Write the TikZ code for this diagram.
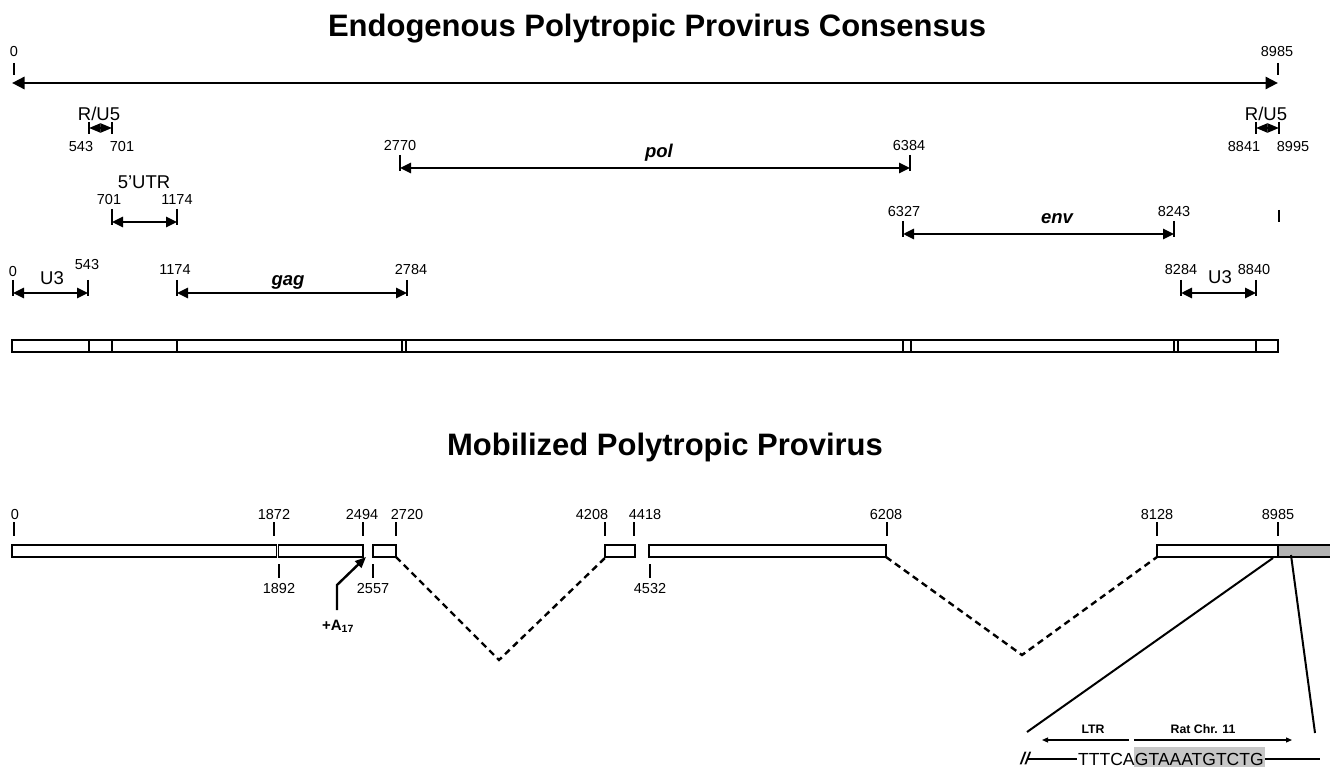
\documentclass[tikz,border=0pt]{standalone}
\usepackage{fontspec}
\setmainfont{Liberation Sans}
\usetikzlibrary{arrows.meta,backgrounds}
\definecolor{bargray}{gray}{0.70}
\definecolor{seqgray}{gray}{0.78}
\begin{document}
\begin{tikzpicture}[x=1pt,y=-1pt,
  num/.style={font=\fontsize{14.5}{16}\selectfont, inner sep=0pt},
  lab/.style={font=\fontsize{18.5}{20}\selectfont, inner sep=0pt},
  gene/.style={font=\fontsize{18.5}{20}\selectfont\bfseries\itshape, inner sep=0pt, anchor=base},
  ttl/.style={font=\fontsize{31}{34}\selectfont\bfseries, inner sep=0pt, anchor=base},
  tk/.style={line width=1.8pt},
  span/.style={line width=2.6pt, {Triangle[length=11pt,width=10pt]}-{Triangle[length=11pt,width=10pt]}},
  bigspan/.style={line width=2.9pt, {Triangle[length=12.5pt,width=12pt]}-{Triangle[length=12.5pt,width=12pt]}},
  mini/.style={line width=2pt, {Triangle[length=11.5pt,width=9pt]}-{Triangle[length=11.5pt,width=9pt]}},
  outline/.style={draw=black, line width=1.9pt, fill=white},
  divider/.style={line width=1.3pt},
  splice/.style={line width=2.4pt, dash pattern=on 6.5pt off 4.5pt},
  zoomline/.style={line width=2pt},
  small/.style={font=\fontsize{12.3}{14}\selectfont\bfseries, inner sep=0pt},
  thinarrow/.style={line width=1.2pt, -{Triangle[length=6pt,width=5pt]}},
  seqfont/.style={font=\fontsize{17.5}{19}\selectfont},
]
\clip (0,0) rectangle (1330,767);

% ================= TOP: consensus =================
\node[ttl] (t1) at (657,37) {Endogenous Polytropic Provirus Consensus};

% full length
\node[num] (n0top) at (14,52) {0};
\node[num] (n8985top) at (1277,52) {8985};
\draw[tk] (14,63) -- (14,75);
\draw[tk] (1278,63) -- (1278,75);
\coordinate (fl) at (12,83);
\coordinate (fr) at (1278,83);
\draw[bigspan] (fl) -- (fr);

% R/U5 left
\node[lab] (ru5l) at (99,114) {R/U5};
\node[num] (n543a) at (81,147) {543};
\node[num] (n701a) at (122,147) {701};
\coordinate (ru5l1) at (89,128);
\coordinate (ru5l2) at (112,128);
\draw[tk] ([yshift=6pt]ru5l1) -- ([yshift=-6pt]ru5l1);
\draw[tk] ([yshift=6pt]ru5l2) -- ([yshift=-6pt]ru5l2);
\draw[mini] (ru5l1) -- (ru5l2);

% R/U5 right
\node[lab] (ru5r) at (1266,114) {R/U5};
\node[num] (n8841) at (1244,147) {8841};
\node[num] (n8995) at (1293,147) {8995};
\coordinate (ru5r1) at (1256,128);
\coordinate (ru5r2) at (1279,128);
\draw[tk] ([yshift=6pt]ru5r1) -- ([yshift=-6pt]ru5r1);
\draw[tk] ([yshift=6pt]ru5r2) -- ([yshift=-6pt]ru5r2);
\draw[mini] (ru5r1) -- (ru5r2);

% pol
\node[num] (n2770) at (400,146) {2770};
\node[num] (n6384) at (909,146) {6384};
\node[gene] (pol) at (659,158) {pol};
\coordinate (pol1) at (400,168);
\coordinate (pol2) at (910,168);
\draw[tk] ([yshift=13pt]pol1) -- ([yshift=-3pt]pol1);
\draw[tk] ([yshift=13pt]pol2) -- ([yshift=-3pt]pol2);
\draw[span] (pol1) -- (pol2);

% 5'UTR
\node[lab] (utr) at (144,182) {5'UTR};
\node[num] (n701b) at (109,200) {701};
\node[num] (n1174a) at (177,200) {1174};
\coordinate (utr1) at (112,222);
\coordinate (utr2) at (177,222);
\draw[tk] ([yshift=13pt]utr1) -- ([yshift=-3pt]utr1);
\draw[tk] ([yshift=13pt]utr2) -- ([yshift=-3pt]utr2);
\draw[span] (utr1) -- (utr2);

% env
\node[num] (n6327) at (904,212) {6327};
\node[num] (n8243) at (1174,212) {8243};
\node[gene] (env) at (1057,224) {env};
\coordinate (env1) at (903,234);
\coordinate (env2) at (1174,234);
\draw[tk] ([yshift=13pt]env1) -- ([yshift=-3pt]env1);
\draw[tk] ([yshift=13pt]env2) -- ([yshift=-3pt]env2);
\draw[span] (env1) -- (env2);

% lone tick
\draw[tk] (1279,210) -- (1279,222);

% U3 left
\node[num] (n0b) at (13,272) {0};
\node[lab] (u3l) at (52,278) {U3};
\node[num] (n543b) at (87,265) {543};
\coordinate (u3l1) at (13,293);
\coordinate (u3l2) at (88,293);
\draw[tk] ([yshift=13pt]u3l1) -- ([yshift=-3pt]u3l1);
\draw[tk] ([yshift=13pt]u3l2) -- ([yshift=-3pt]u3l2);
\draw[span] (u3l1) -- (u3l2);

% gag
\node[num] (n1174b) at (175,270) {1174};
\node[num] (n2784) at (411,270) {2784};
\node[gene] (gag) at (288,285) {gag};
\coordinate (gag1) at (177,293);
\coordinate (gag2) at (407,293);
\draw[tk] ([yshift=13pt]gag1) -- ([yshift=-3pt]gag1);
\draw[tk] ([yshift=13pt]gag2) -- ([yshift=-3pt]gag2);
\draw[span] (gag1) -- (gag2);

% U3 right
\node[num] (n8284) at (1181,270) {8284};
\node[lab] (u3r) at (1220,277) {U3};
\node[num] (n8840) at (1254,270) {8840};
\coordinate (u3r1) at (1181,293);
\coordinate (u3r2) at (1256,293);
\draw[tk] ([yshift=13pt]u3r1) -- ([yshift=-3pt]u3r1);
\draw[tk] ([yshift=13pt]u3r2) -- ([yshift=-3pt]u3r2);
\draw[span] (u3r1) -- (u3r2);

% consensus bar
\draw[outline] (12,340) rectangle (1278,352);
\foreach \x in {89,112,177,402,406,903,911,1174,1178,1256}
  \draw[divider] (\x,340) -- (\x,352);

% ================= BOTTOM: mobilized =================
\node[ttl] (t2) at (665,455) {Mobilized Polytropic Provirus};

\foreach \x/\lx/\t in {14/15/0, 274/274/1872, 363/362/2494, 396/407/2720, 605/592/4208, 634/645/4418, 887/886/6208, 1157/1157/8128, 1278/1278/8985}{
  \node[num] at (\lx,515) {\t};
  \draw[tk] (\x,522) -- (\x,536);
}

% bar segments
\draw[outline] (12,545) rectangle (276.5,557);
\draw[outline] (278.5,545) rectangle (363,557);
\draw[outline] (373,545) rectangle (396,557);
\draw[outline] (605,545) rectangle (635,557);
\draw[outline] (649,545) rectangle (886,557);
\draw[outline] (1157,545) rectangle (1278,557);
\draw[outline, fill=bargray] (1278,545) rectangle (1345,557);

% lower ticks
\foreach \x/\t in {279/1892, 373/2557, 650/4532}{
  \draw[tk] (\x,564) -- (\x,578);
  \node[num] at (\x,589) {\t};
}

% +A17 insertion
\node[font=\fontsize{15}{17}\selectfont\bfseries, inner sep=0pt, anchor=base] (a17) at (338,630) {+A\textsubscript{17}};
\coordinate (pa) at (337,610);
\coordinate (pb) at (337,585);
\coordinate (pc) at (366,557);
\draw[line width=2.4pt, -{Triangle[length=11pt,width=9pt]}] (pa) -- (pb) -- (pc);

% splices
\coordinate (s1a) at (396,557);
\coordinate (s1b) at (499,660);
\coordinate (s1c) at (606,557);
\draw[splice] (s1a) -- (s1b) -- (s1c);
\coordinate (s2a) at (886,557);
\coordinate (s2b) at (1022,655);
\coordinate (s2c) at (1157,557);
\draw[splice] (s2a) -- (s2b) -- (s2c);

% zoom lines
\coordinate (z1a) at (1273,558);
\coordinate (z1b) at (1027,732);
\coordinate (z2a) at (1291,555);
\coordinate (z2b) at (1315,733);
\draw[zoomline] (z1a) -- (z1b);
\draw[zoomline] (z2a) -- (z2b);

% inset
\node[small] (ltr) at (1093,729) {LTR};
\node[small] (rat) at (1203,729) {Rat Chr. 11};
\coordinate (la1) at (1129,740);
\coordinate (la2) at (1042,740);
\draw[thinarrow] (la1) -- (la2);
\coordinate (ra1) at (1134,740);
\coordinate (ra2) at (1292,740);
\draw[thinarrow] (ra1) -- (ra2);

\node[seqfont, inner sep=0pt, anchor=base west] (seqa) at (1078,765.5) {TTTCA};
\node[seqfont, inner sep=0pt, anchor=base west] (seqb) at (seqa.base east) {GTAAATGTCTG};
\begin{scope}[on background layer]
  \fill[seqgray] ([xshift=-0.6pt]seqb.west |- 0,747) rectangle ([xshift=0.8pt]seqb.east |- 0,767);
\end{scope}
\node[font=\fontsize{17}{19}\selectfont\bfseries\itshape, inner sep=0pt, anchor=base] (brk) at (1025,764) {//};
\coordinate (sl1) at (1027,759);
\coordinate (sr2) at (1320,759);
\draw[line width=1.4pt] (sl1) -- ([xshift=-1pt]seqa.west |- sl1);
\draw[line width=1.4pt] ([xshift=1.5pt]seqb.east |- sl1) -- (sr2);
\end{tikzpicture}
\end{document}
